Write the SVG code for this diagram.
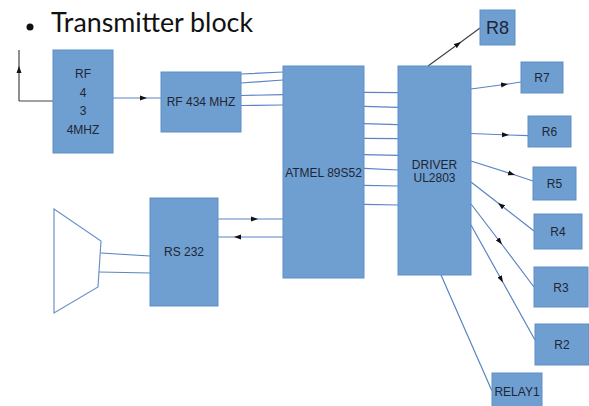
<svg xmlns="http://www.w3.org/2000/svg" width="589" height="406" viewBox="0 0 589 406">
<defs>
<style>
.box{fill:#6f9ed1;stroke:#5f8fc7;stroke-width:1}
.t{font-family:"Liberation Sans",Arial,sans-serif;font-size:12px;fill:#1e2733;text-anchor:middle}
.c{fill:none;stroke:#5a84c4;stroke-width:1.2}
.k{fill:none;stroke:#444;stroke-width:1.2}
.a{marker-mid:url(#ah)}
</style>
<marker id="ah" markerUnits="userSpaceOnUse" markerWidth="8" markerHeight="6" refX="7" refY="3" orient="auto">
<path d="M0,0.5 L7,3 L0,5.5 z" fill="#111"/>
</marker>
</defs>
<rect width="589" height="406" fill="#fff"/>
<g id="title">
<circle cx="30" cy="27" r="3.5" fill="#111"/>
<text x="51" y="31.5" font-family="Lato,'Open Sans',sans-serif" font-size="26" fill="#111" textLength="202" lengthAdjust="spacingAndGlyphs">Transmitter block</text>
</g>
<g id="connectors">
<path class="k" d="M53,101 L19,101"/>
<path class="k a" d="M19,101 L19,66 L19,50"/>
<path class="c a" d="M113,98 L147,98 L161,98"/>
<path class="c" d="M241,74 L283,72 M241,83 L283,80 M241,95.5 L283,94.7 M241,105.5 L283,105"/>
<path class="c" d="M364,92.3 L398,92.7 M364,106.3 L398,107.3 M364,123.7 L398,124.7 M364,138.3 L398,138.7 M364,154.7 L398,155.3 M364,168.3 L398,170 M364,185.3 L398,186 M364,204.3 L398,205"/>
<path class="c a" d="M218,219 L258,219 L283,219"/>
<path class="c a" d="M283,237 L234,237 L218,237"/>
<path class="c" d="M101,253 L150,256 M99,272 L150,273"/>
<path class="k a" d="M428,66 L461,42 L480,28"/>
<path class="c a" d="M471,89 L508,84 L521,82"/>
<path class="c a" d="M471,133.5 L509,135 L528,135.7"/>
<path class="c a" d="M471,161 L515,175 L533,181"/>
<path class="c a" d="M534,231 L498,203 L471,182"/>
<path class="c a" d="M471,204 L502,244.5 L534,287"/>
<path class="c a" d="M471,225 L503,282.5 L535,340"/>
<path class="c" d="M441,275 L492,391"/>
</g>
<g id="monitor">
<path d="M54,209 L101,241 L98,287 L54,313 Z" fill="#fff" stroke="#6a93cc" stroke-width="1.2"/>
</g>
<g id="rf">
<rect class="box" x="53" y="50" width="60" height="103"/>
<text class="t" x="83" y="78">RF</text>
<text class="t" x="83" y="97">4</text>
<text class="t" x="83" y="115">3</text>
<text class="t" x="83" y="134">4MHZ</text>
</g>
<g id="rf434">
<rect class="box" x="161" y="72" width="80" height="60"/>
<text class="t" x="201" y="106">RF 434 MHZ</text>
</g>
<g id="atmel">
<rect class="box" x="283" y="66" width="81" height="212"/>
<text class="t" x="323.5" y="177">ATMEL 89S52</text>
</g>
<g id="driver">
<rect class="box" x="398" y="66" width="73" height="209"/>
<text class="t" x="434.5" y="169">DRIVER</text>
<text class="t" x="434.5" y="182">UL2803</text>
</g>
<g id="rs232">
<rect class="box" x="150" y="198" width="68" height="108"/>
<text class="t" x="184" y="256">RS 232</text>
</g>
<g id="r8">
<rect class="box" x="480" y="10" width="35" height="35"/>
<text class="t" x="497.5" y="34" style="font-size:18px">R8</text>
</g>
<g id="r7">
<rect class="box" x="521" y="62" width="42" height="31"/>
<text class="t" x="542" y="82">R7</text>
</g>
<g id="r6">
<rect class="box" x="528" y="116" width="43" height="31"/>
<text class="t" x="549.5" y="136">R6</text>
</g>
<g id="r5">
<rect class="box" x="533" y="167" width="43" height="33"/>
<text class="t" x="554.5" y="188">R5</text>
</g>
<g id="r4">
<rect class="box" x="534" y="214" width="48" height="35"/>
<text class="t" x="558" y="236">R4</text>
</g>
<g id="r3">
<rect class="box" x="534" y="267" width="54" height="40"/>
<text class="t" x="561" y="292">R3</text>
</g>
<g id="r2">
<rect class="box" x="535" y="324" width="54" height="41"/>
<text class="t" x="562" y="349">R2</text>
</g>
<g id="relay1">
<rect class="box" x="492" y="373" width="50" height="40"/>
<text class="t" x="517" y="396">RELAY1</text>
</g>
</svg>
